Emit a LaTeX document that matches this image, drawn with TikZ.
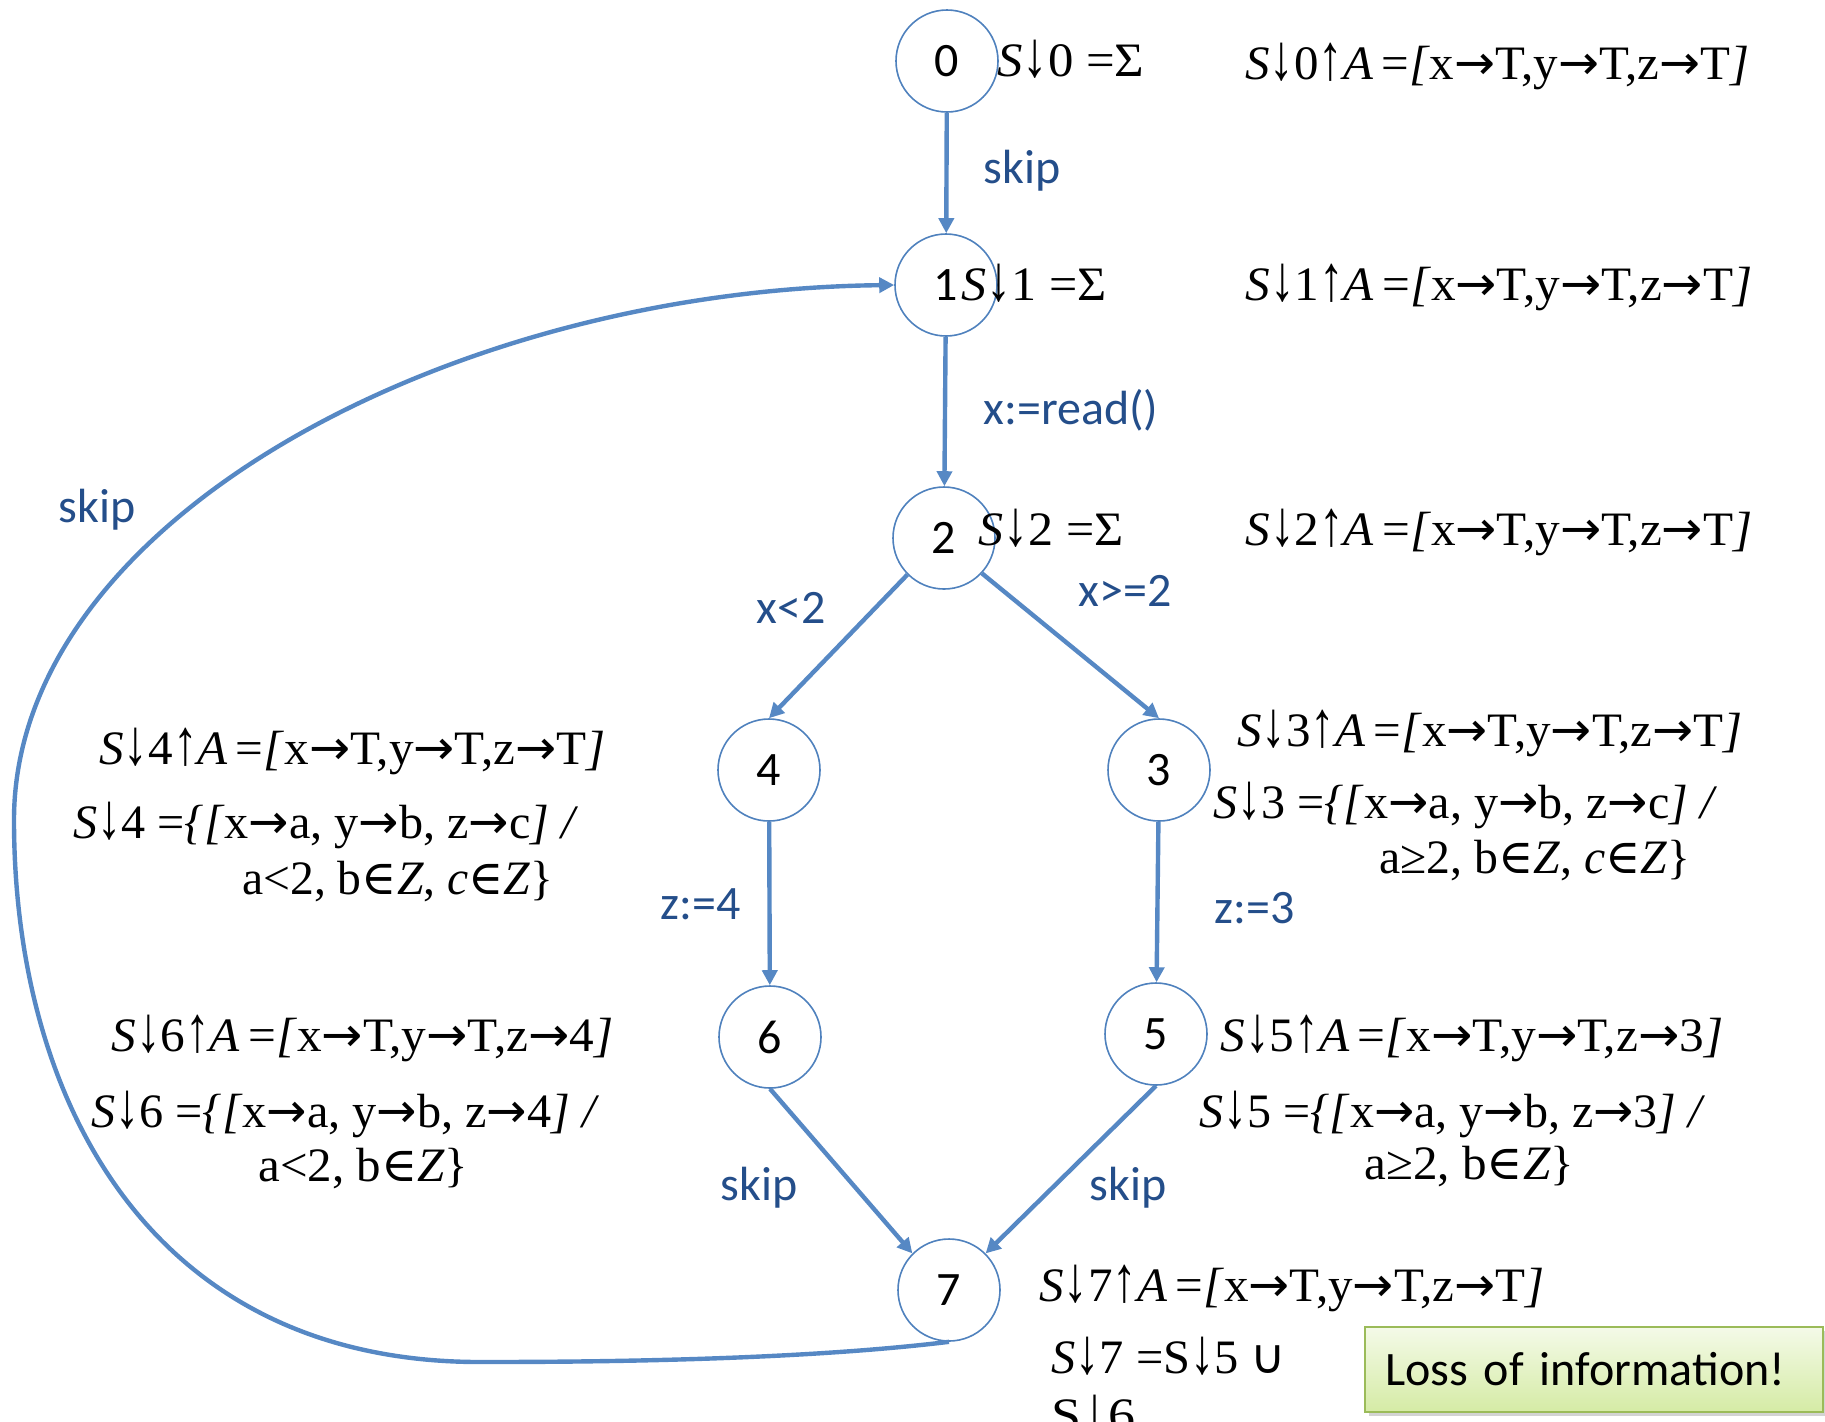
\documentclass[tikz,border=0pt]{standalone}
\usepackage{fontspec}
\setmainfont{Liberation Serif}
\newfontfamily\carl{Carlito}
\newfontfamily\dvs{DejaVu Serif}
\newfontfamily\dvsans{DejaVu Sans}
\usetikzlibrary{arrows.meta,shadows}
\definecolor{edgeblue}{RGB}{86,136,196}
\definecolor{circblue}{RGB}{79,129,189}
\definecolor{lblblue}{RGB}{36,78,138}
\definecolor{boxgreenA}{RGB}{244,250,232}
\definecolor{boxgreenB}{RGB}{213,235,165}
\definecolor{boxborder}{RGB}{155,187,89}
\newcommand\fw[2]{\resizebox{#1pt}{\height}{#2}}
\newcommand\ra{{\dvsans →}}
\newcommand\da{\scalebox{1}[1.35]{↓}}
\newcommand\ua{\scalebox{1}[1.35]{↑}}
\newcommand\SD{\textit{S}\da}
\newcommand\UA{\ua\textit{A}}
\newcommand\inZ{{\dvs ∈}\textit{Z}}
\newcommand\Tlist[1]{\textit{[}x\ra T,y\ra T,z\ra #1\textit{]}}
\tikzset{
  state/.style={circle, draw=circblue, line width=0.8pt, minimum size=51pt, inner sep=0pt, font=\carl\fontsize{24}{28}\selectfont},
  flow/.style={draw=edgeblue, line width=2.2pt, -{Triangle[length=7.5pt,width=7.5pt]}},
  elabel/.style={font=\carl\fontsize{24}{28}\selectfont, text=lblblue, inner sep=0pt},
  fml/.style={anchor=base west, inner sep=0pt, font=\fontsize{24}{28}\selectfont},
}
\begin{document}
\begin{tikzpicture}[x=0.5pt,y=-0.5pt]
\useasboundingbox (0,0) rectangle (1825,1421);
\clip (0,0) rectangle (1825,1421);
% states
\node[state] (n0) at (947,61) {0};
\node[state] (n1) at (946,285) {1};
\node[state] (n2) at (944,538) {2};
\node[state] (n4) at (769,770) {4};
\node[state] (n3) at (1159,770) {3};
\node[state] (n6) at (770,1037) {6};
\node[state] (n5) at (1156,1034) {5};
\node[state] (n7) at (949,1290) {7};
% edges
\draw[flow] (n0) -- (n1);
\draw[flow] (n1) -- (n2);
\draw[flow] (n2.-135) -- (n4.north);
\draw[flow] (n2.-43) -- (n3.north);
\draw[flow] (n4) -- (n6);
\draw[flow] (n3) -- (n5);
\draw[flow] (n6.south) -- (n7.135);
\draw[flow] (n5.south) -- (n7.45);
\draw[flow] (n7.south) .. controls (800,1360) and (600,1362) .. (480,1362)
  .. controls (150,1362) and (14,1100) .. (14,820)
  .. controls (14,520) and (450,290) .. (n1.west);
% edge labels
\node[elabel] (l01) at (1022,171) {skip};
\node[elabel] (l12) at (1071,410) {x:=read()};
\node[elabel] (l71) at (97,510) {skip};
\node[elabel] (l24) at (791,608) {x<2};
\node[elabel] (l23) at (1125,591) {x>=2};
\node[elabel] (l46) at (701,904) {z:=4};
\node[elabel] (l35) at (1255,908) {z:=3};
\node[elabel] (l67) at (759,1188) {skip};
\node[elabel] (l57) at (1128,1188) {skip};
% formulas
\node[fml] (f0s) at (997,76) {\fw{73.5}{\SD0 =Σ}};
\node[fml] (f0a) at (1245,79) {\fw{252}{\SD0\UA\,=\Tlist{T}}};
\node[fml] (f1s) at (961,300) {\fw{72.5}{\SD1 =Σ}};
\node[fml] (f1a) at (1245,300) {\fw{253.5}{\SD1\UA\,=\Tlist{T}}};
\node[fml] (f2s) at (978,545) {\fw{72.5}{\SD2 =Σ}};
\node[fml] (f2a) at (1245,545) {\fw{253.5}{\SD2\UA\,=\Tlist{T}}};
\node[fml] (f3a) at (1237,746) {\fw{252.5}{\SD3\UA\,=\Tlist{T}}};
\node[fml] (f3s) at (1213,818) {\fw{252}{\SD3 =\textit{\{[}x\ra a, y\ra b, z\ra c\textit{]} \textit{/}}};
\node[fml] (f3c) at (1379,873) {\fw{155.5}{a≥2, b\inZ, \textit{c}\inZ\}}};
\node[fml] (f4a) at (99,764) {\fw{253}{\SD4\UA\,=\Tlist{T}}};
\node[fml] (f4s) at (73,838) {\fw{252.5}{\SD4 =\textit{\{[}x\ra a, y\ra b, z\ra c\textit{]} \textit{/}}};
\node[fml] (f4c) at (242,894) {\fw{155.5}{a<2, b\inZ, \textit{c}\inZ\}}};
\node[fml] (f6a) at (111,1051) {\fw{251}{\SD6\UA\,=\Tlist{4}}};
\node[fml] (f6s) at (91,1127) {\fw{254}{\SD6 =\textit{\{[}x\ra a, y\ra b, z\ra 4\textit{]} \textit{/}}};
\node[fml] (f6c) at (258,1181) {\fw{105}{a<2, b\inZ\}}};
\node[fml] (f5a) at (1220,1051) {\fw{251.5}{\SD5\UA\,=\Tlist{3}}};
\node[fml] (f5s) at (1199,1127) {\fw{253}{\SD5 =\textit{\{[}x\ra a, y\ra b, z\ra 3\textit{]} \textit{/}}};
\node[fml] (f5c) at (1364,1179) {\fw{105}{a≥2, b\inZ\}}};
\node[fml] (f7a) at (1039,1301) {\fw{252.5}{\SD7\UA\,=\Tlist{T}}};
\node[fml] (f7s) at (1051,1373) {\fw{117.5}{\SD7 =S\da 5 {\dvsans ∪}}};
\node[fml] (f7t) at (1051,1431) {\fw{42}{S\da 6}};
% note box
\node[draw=boxborder, line width=1pt, top color=boxgreenA, bottom color=boxgreenB,
  drop shadow={shadow xshift=2pt, shadow yshift=-2pt, opacity=0.35},
  minimum width=229pt, minimum height=42.5pt, inner xsep=10pt, inner ysep=0pt,
  text width=209pt, align=left, font=\carl\fontsize{24}{28}\selectfont]
  (loss) at (1594,1369.5) {Loss of information!};
\end{tikzpicture}
\end{document}
